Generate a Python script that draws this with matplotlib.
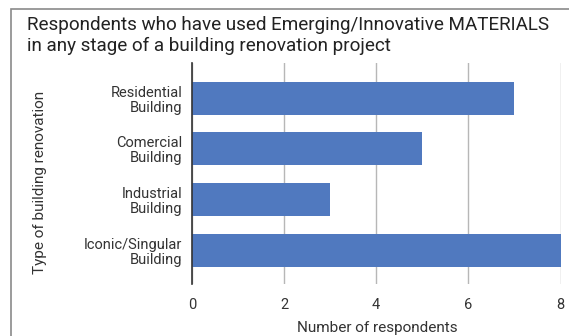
import matplotlib
matplotlib.use("Agg")
import matplotlib.pyplot as plt
from matplotlib.patches import Rectangle

categories = ["Residential\nBuilding", "Comercial\nBuilding", "Industrial\nBuilding", "Iconic/Singular\nBuilding"]
values = [7, 5, 3, 8]
x_ticks = [0, 2, 4, 6, 8]

title = "Respondents who have used Emerging/Innovative MATERIALS\nin any stage of a building renovation project"
x_label = "Number of respondents"
y_label = "Type of building renovation"

plt.rcParams["font.family"] = ["Roboto", "DejaVu Sans"]

W, H = 569, 336
fig = plt.figure(figsize=(W / 100, H / 100), dpi=100)
fig.patch.set_facecolor("white")

# outer chart frame (only the top and left edges are within the canvas)
fig.patches.append(Rectangle((11 / W, -0.1), 1.2, (H - 9) / H + 0.1,
                             transform=fig.transFigure, fill=False,
                             edgecolor="#8a8a8a", linewidth=1.2, zorder=0))

left, right = 192 / W, 560.5 / W
top, bottom = 1 - 63 / H, 1 - 284 / H
ax = fig.add_axes([left, bottom, right - left, top - bottom])

ypos = list(range(len(categories)))
ax.barh(ypos, values, height=0.65, color="#5079bf", zorder=3)
ax.set_ylim(len(categories) - 1 + 0.66, -0.69)
ax.set_xlim(0, 8)

ax.set_xticks(x_ticks)
ax.set_xticklabels([str(t) for t in x_ticks])
ax.set_yticks(ypos)
ax.set_yticklabels(categories, ha="right", linespacing=1.1)

ax.tick_params(axis="both", length=0, colors="#333333", labelsize=10.5)
ax.tick_params(axis="x", pad=10)
ax.tick_params(axis="y", pad=7)

ax.grid(axis="x", color="#b7b7b7", linewidth=1, zorder=0)
for s in ["top", "right", "bottom"]:
    ax.spines[s].set_visible(False)
ax.spines["left"].set_color("#333333")
ax.spines["left"].set_linewidth(1.2)
ax.spines["left"].set_zorder(4)

fig.text(27 / W, 1 - 15.5 / H, title, ha="left", va="top", fontsize=13.6,
         color="#222222", linespacing=1.22)
fig.text(377 / W, 1 - 328 / H, x_label, ha="center", va="center",
         fontsize=11, color="#333333")
fig.text(40 / W, 1 - 182 / H, y_label, ha="center", va="center",
         rotation=90, fontsize=11, color="#333333")

fig.savefig("out.png", dpi=100, facecolor="white")
